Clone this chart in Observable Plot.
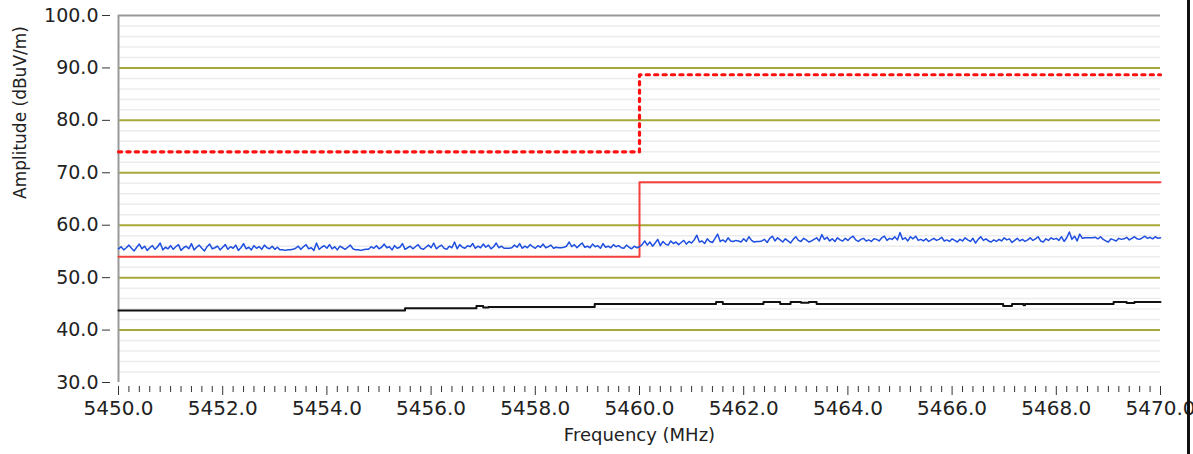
<!DOCTYPE html>
<html><head><meta charset="utf-8">
<script src="https://cdn.jsdelivr.net/npm/d3@7"></script>
<script src="https://cdn.jsdelivr.net/npm/@observablehq/plot@0.6"></script>
<style>
body{margin:0;background:#fff;}
#wrap{position:relative;width:1193px;height:454px;overflow:hidden;}
#edge{position:absolute;left:1187px;top:0;width:3px;height:454px;background:#111;}
</style>
</head><body><div id="wrap"><div id="edge"></div></div>
<script>
const xTicks = [5450,5452,5454,5456,5458,5460,5462,5464,5466,5468,5470];
const yTicks = [30,40,50,60,70,80,90,100];

// Limit lines (step functions)
const peakLimitFreq = [5450, 5460, 5470];
const peakLimitAmp  = [74.0, 88.7, 88.7];
const avgLimitFreq  = [5450, 5460, 5470];
const avgLimitAmp   = [54.0, 68.2, 68.2];

// Average trace (black), step-after
const blackFreq = [5450.0,5455.5,5456.87,5457.0,5457.1,5459.14,5461.47,5461.6,5462.38,5462.7,5462.9,5463.1,5463.25,5463.4,5465.0,5466.98,5467.15,5467.37,5467.4,5469.1,5469.35,5469.5,5470.0];
const blackAmp  = [43.75,44.17,44.58,44.3,44.38,44.96,45.34,44.96,45.34,44.96,45.34,45.2,45.34,44.96,44.96,44.58,44.96,44.75,44.96,45.34,45.15,45.34,45.34];

// Peak trace (blue), 0.05 MHz sweep from 5450.0 to 5470.0
const blueStart = 5450, blueStep = 0.05;
const blueAmp = [
55.5,55.9,55.3,55.7,56.2,55.6,55.1,55.8,56.4,55.5,56.0,55.2,55.7,56.1,55.4,55.9,56.6,55.3,55.8,55.5,
56.1,55.4,55.9,56.3,55.2,55.7,56.0,55.5,56.5,55.3,55.8,56.2,55.6,55.1,55.9,56.4,55.5,55.7,56.0,55.3,
55.8,56.3,55.4,55.9,55.6,56.2,55.2,55.7,56.5,55.5,55.8,55.3,56.1,55.6,55.9,55.4,56.2,55.7,55.5,56.0,
55.4,55.8,55.3,55.3,55.2,55.3,55.3,55.4,55.6,56.0,55.4,55.9,56.3,55.5,55.7,55.2,56.6,55.4,55.8,56.1,
55.6,56.3,55.5,55.9,55.3,56.0,55.7,55.4,55.8,56.2,55.5,55.3,55.3,55.2,55.3,55.4,55.4,55.9,55.6,56.1,
55.5,55.8,56.4,55.7,55.9,55.3,56.1,55.6,55.8,56.5,55.4,55.7,56.0,55.5,55.9,56.3,55.6,55.4,55.8,56.2,
55.7,56.6,55.5,55.9,56.2,55.6,55.4,56.0,55.7,56.8,55.5,56.3,55.8,55.6,56.1,55.9,56.5,55.6,56.0,55.7,
56.4,55.8,56.2,55.5,55.9,56.6,55.7,56.0,55.6,55.6,55.6,55.7,56.2,55.8,56.5,55.6,56.0,55.7,56.3,55.9,
55.6,56.1,55.8,56.4,55.7,55.9,56.2,55.6,55.8,55.7,55.7,55.8,56.0,56.8,55.9,56.3,55.7,56.2,56.6,55.8,
56.0,55.7,56.4,55.9,56.1,55.6,56.5,55.8,56.0,55.7,56.3,55.9,56.1,55.7,55.6,56.2,55.8,55.5,56.0,55.7,
55.9,56.3,57.0,56.2,56.8,56.0,56.6,57.3,56.1,56.9,56.4,56.2,57.0,56.5,56.8,56.3,56.7,57.1,56.4,56.9,
56.6,57.2,58.1,56.8,57.0,56.5,57.4,56.9,56.7,57.5,58.3,56.9,57.2,56.8,57.6,57.0,56.9,57.1,57.0,56.8,
57.4,56.9,57.8,57.1,56.8,56.9,56.9,57.0,57.3,56.7,57.5,57.9,57.0,57.6,57.2,56.8,57.4,57.0,56.6,57.3,
57.8,57.1,56.9,57.5,57.2,56.8,57.0,57.3,57.6,57.0,58.2,57.3,57.7,57.0,57.4,56.9,57.6,57.2,57.0,57.5,
57.1,57.6,57.9,57.2,56.9,57.3,57.5,57.0,57.2,56.9,57.4,57.3,57.0,57.6,57.9,57.1,57.5,57.3,57.8,57.2,
58.6,57.3,57.6,57.0,57.8,57.4,57.9,57.1,57.3,57.0,57.4,56.9,57.2,57.5,57.1,57.3,57.7,57.0,57.2,56.9,
57.4,57.1,56.8,57.3,57.0,57.6,57.2,56.9,57.5,56.6,57.3,57.8,57.1,57.4,57.0,56.8,57.2,56.9,57.3,57.0,
57.6,57.2,57.4,56.7,57.1,57.5,57.0,57.3,56.9,57.2,57.6,57.1,57.4,57.8,57.0,56.8,57.4,57.1,57.6,57.3,
57.5,57.1,57.8,56.9,57.6,58.7,57.3,57.9,57.0,58.3,57.5,57.6,57.6,57.6,57.6,57.7,57.4,57.8,57.3,57.0,
56.8,57.4,57.2,57.0,57.5,57.3,57.4,57.7,57.2,57.5,57.8,57.4,57.3,57.6,57.9,57.5,57.7,57.4,57.8,57.5,
57.6
];

const xTitle = "Frequency (MHz)";
const yTitle = "Amplitude (dBuV/m)";

const blue = blueAmp.map((a,i)=>({f: blueStart + i*blueStep, a}));
const black = blackFreq.map((f,i)=>({f, a: blackAmp[i]}));
const peakLim = peakLimitFreq.map((f,i)=>({f, a: peakLimitAmp[i]}));
const avgLim = avgLimitFreq.map((f,i)=>({f, a: avgLimitAmp[i]}));

const yMinor = d3.range(30, 100, 2).filter(v => v % 10 !== 0);
const xMinor = d3.range(0, 101).map(i => 5450 + i*0.2).filter((v,i) => i % 10 !== 0);
const majorGrid = yTicks.filter(v => v > 30 && v < 100);

const plot = Plot.plot({
  width: 1193, height: 454,
  marginLeft: 118, marginRight: 33, marginTop: 15, marginBottom: 72,
  style: {fontFamily: "DejaVu Sans", fontSize: "19px", color: "#222", background: "transparent", overflow: "visible"},
  x: {domain: [5450, 5470]},
  y: {domain: [30, 100]},
  marks: [
    Plot.ruleY(yMinor, {stroke: "#ececec", strokeWidth: 1.5}),
    Plot.ruleY(majorGrid, {stroke: "#a8a73a", strokeWidth: 2}),
    Plot.ruleY([100], {stroke: "#999", strokeWidth: 2}),
    Plot.ruleX([5450], {stroke: "#999", strokeWidth: 2, y1: 30, y2: 100}),
    Plot.line(black, {x: "f", y: "a", curve: "step-after", stroke: "#111", strokeWidth: 2}),
    Plot.line(avgLim, {x: "f", y: "a", curve: "step-after", stroke: "#f5413c", strokeWidth: 2}),
    Plot.line(blue, {x: "f", y: "a", stroke: "#1f4fe0", strokeWidth: 1.5}),
    Plot.line(peakLim, {x: "f", y: "a", curve: "step-after", stroke: "#ff1010", strokeWidth: 3.2, strokeDasharray: "3.2,5.2"}),
    Plot.axisY({ticks: yTicks, tickFormat: d => d.toFixed(1), tickSize: 8, tickPadding: 4, dx: -8, label: null, stroke: "#333", fontSize: 19}),
    Plot.axisX({ticks: xMinor, tickSize: 6, tickFormat: () => "", dy: 4, label: null, stroke: "#333"}),
    Plot.axisX({ticks: xTicks, tickSize: 9, tickPadding: 5, dy: 4, tickFormat: d => d.toFixed(1), label: null, stroke: "#333", fontSize: 20}),
    Plot.text([yTitle], {frameAnchor: "left", dx: -98, rotate: -90, fontSize: 17, fill: "#222"}),
    Plot.text([xTitle], {frameAnchor: "bottom", dy: 58, fontSize: 18, fill: "#222"})
  ]
});
const wrap = document.getElementById("wrap");
wrap.insertBefore(plot, wrap.firstChild);
</script>
</body></html>
